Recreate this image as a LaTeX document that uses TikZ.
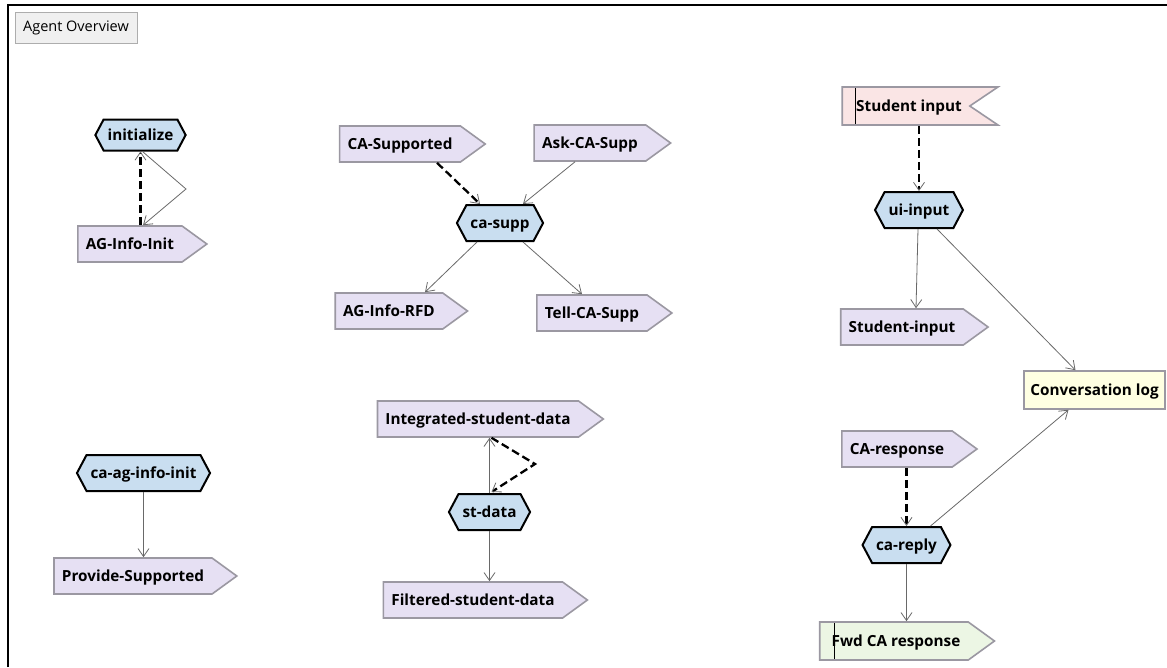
\documentclass[tikz,border=0pt]{standalone}
\usepackage{fontspec}
\setmainfont{Open Sans}
\usetikzlibrary{shapes.symbols,arrows.meta,calc}

\definecolor{msgfill}{RGB}{230,224,243}
\definecolor{msgdraw}{RGB}{155,152,162}
\definecolor{planfill}{RGB}{201,222,240}
\definecolor{pctfill}{RGB}{250,229,229}
\definecolor{logfill}{RGB}{255,255,226}
\definecolor{actfill}{RGB}{236,246,228}
\definecolor{linkgray}{RGB}{105,105,105}
\definecolor{btnfill}{RGB}{240,240,240}
\definecolor{btndraw}{RGB}{173,173,173}

\tikzset{
  lbl/.style={font=\bfseries\fontsize{15.3}{18}\selectfont, text=black,
    text height=12.4, text depth=1.8},
  msg/.style={lbl, signal, signal to=east, signal pointer angle=72,
    fill=msgfill, draw=msgdraw, line width=1.6pt, minimum height=36,
    inner xsep=8, inner ysep=0},
  percept/.style={lbl, signal, signal to=nowhere, signal from=east,
    signal pointer angle=68,
    fill=pctfill, draw=msgdraw, line width=1.6pt, minimum height=38,
    inner xsep=8, inner ysep=0,
    path picture={\draw[black, line width=1.3pt]
      ([xshift=13]path picture bounding box.north west) --
      ([xshift=13]path picture bounding box.south west);}},
  action/.style={msg, fill=actfill, minimum height=38,
    path picture={\draw[black, line width=1.3pt]
      ([xshift=15]path picture bounding box.north west) --
      ([xshift=15]path picture bounding box.south west);}},
  plan/.style={lbl, signal, signal to=east and west, signal pointer angle=124,
    fill=planfill, draw=black, line width=2pt, minimum height=36,
    inner xsep=4, inner ysep=0},
  datastore/.style={lbl, rectangle, fill=logfill, draw=msgdraw,
    line width=1.6pt, minimum width=141, minimum height=38, inner sep=0},
  tip/.style={-{Straight Barb[length=8pt,width=11pt,line width=0.8pt,color=linkgray]}},
  link/.style={tip, draw=linkgray, line width=0.8pt},
  trig/.style={tip, draw=black, line width=2.3pt, dash pattern=on 8pt off 4pt},
}

\begin{document}
\begin{tikzpicture}[x=1pt, y=-1pt]
\useasboundingbox (0,0) rectangle (1167,667);
\fill[white] (0,0) rectangle (1167,667);

% window frame and caption button
\draw[black, line width=2.4pt] (8,667) -- (8,5) -- (1167,5);
\node[draw=btndraw, fill=btnfill, line width=1pt, minimum width=122,
      minimum height=31, inner sep=0,
      font=\fontsize{14.5}{17}\selectfont] (caption) at (76,27.5) {Agent Overview};

% initialisation group
\node[plan, minimum height=31] (init) at (140.5,135) {initialize};
\node[msg] (aginit) at (130,244) {AG-Info-Init};

% capability support group
\node[msg] (cas) at (400,144) {CA-Supported};
\node[msg] (ask) at (590,143) {Ask-CA-Supp};
\node[plan] (casupp) at (500,223) {ca-supp};
\node[msg] (rfd) at (389,311) {AG-Info-RFD};
\node[msg] (tell) at (592,313) {Tell-CA-Supp};

% info-init reply group
\node[plan] (caag) at (143.5,473) {ca-ag-info-init};
\node[msg] (prov) at (133,576) {Provide-Supported};

% student data group
\node[msg] (integ) at (478,419) {Integrated-student-data};
\node[plan] (st) at (489.5,512) {st-data};
\node[msg] (filt) at (473,600) {Filtered-student-data};

% user interface group
\node[percept] (sin) at (906,106) {\hspace*{6pt}Student input};
\node[plan] (uiin) at (919,210) {ui-input};
\node[msg] (sinm) at (902,327) {Student-input};
\node[datastore] (log) at (1094.5,390) {Conversation log};
\node[msg] (car) at (897,449) {CA-response};
\node[plan] (careply) at (906.5,545) {ca-reply};
\node[action] (fwd) at (894,641) {\hspace*{4pt}Fwd CA response};

% bend points
\coordinate (b1) at (186,189);
\coordinate (b2) at (535,464);

% connectors
\draw[trig] (init.south |- aginit.north) -- (init.south);
\draw[link] ([xshift=2]init.south) -- (b1) -- ([xshift=13]aginit.north);

\draw[trig] ([xshift=37]cas.south) -- ([xshift=-20]casupp.north);
\draw[link] ([xshift=-15]ask.south) -- ([xshift=23]casupp.north);
\draw[link] ([xshift=-23]casupp.south) -- ([xshift=36]rfd.north);
\draw[link] ([xshift=23]casupp.south) -- ([xshift=-10]tell.north);

\draw[link] (caag.south) -- (caag.south |- prov.north);

\draw[link] (st.north) -- (st.north |- integ.south);
\draw[trig] ($(st.north |- integ.south)+(2,0)$) -- (b2) -- ($(st.north)+(2,-1)$);
\draw[link] (st.south) -- (st.south |- filt.north);

\draw[trig] (uiin.north |- sin.south) -- (uiin.north);
\draw[link] ([xshift=-1]uiin.south) -- ([xshift=14]sinm.north);
\draw[link] ([xshift=18]uiin.south) -- ([xshift=-19]log.north);
\draw[trig] (careply.north |- car.south) -- (careply.north);
\draw[link] ([xshift=24]careply.north) -- ([xshift=-26]log.south);
\draw[link] (careply.south) -- (careply.south |- fwd.north);
\end{tikzpicture}
\end{document}
